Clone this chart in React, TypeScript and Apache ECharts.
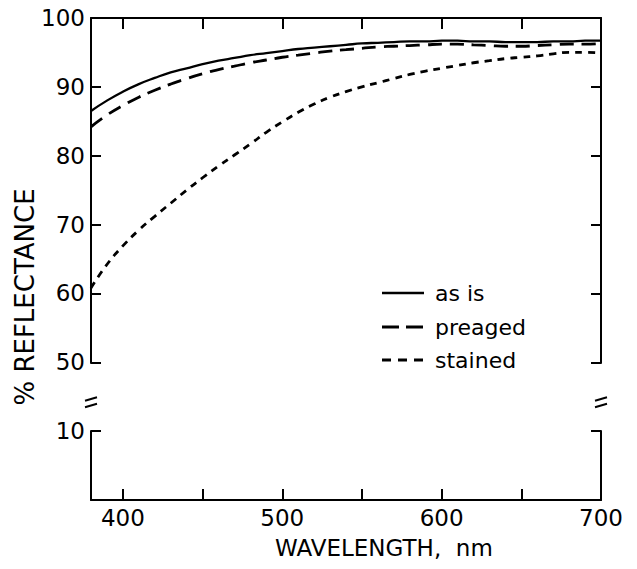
import React, { useEffect, useRef } from "react";
import * as echarts from "echarts";

const wavelengths = [380, 390, 400, 410, 420, 430, 440, 450, 460, 470, 480, 490, 500, 510, 520, 530, 540, 550, 560, 570, 580, 590, 600, 610, 620, 630, 640, 650, 660, 670, 680, 690, 700];
const asIs = [86.5, 88.0, 89.3, 90.4, 91.3, 92.1, 92.7, 93.3, 93.8, 94.2, 94.6, 94.9, 95.2, 95.5, 95.7, 95.9, 96.1, 96.3, 96.4, 96.5, 96.6, 96.6, 96.7, 96.7, 96.6, 96.6, 96.5, 96.5, 96.5, 96.6, 96.6, 96.7, 96.7];
const preaged = [84.2, 85.9, 87.3, 88.5, 89.5, 90.4, 91.2, 91.9, 92.5, 93.0, 93.5, 93.9, 94.3, 94.6, 94.9, 95.2, 95.4, 95.6, 95.8, 95.9, 96.0, 96.1, 96.2, 96.2, 96.1, 96.0, 95.9, 95.9, 96.0, 96.1, 96.2, 96.2, 96.3];
const stained = [60.8, 64.2, 66.9, 69.2, 71.2, 73.1, 75.0, 76.8, 78.5, 80.1, 81.7, 83.4, 84.9, 86.3, 87.5, 88.5, 89.3, 90.0, 90.6, 91.2, 91.8, 92.3, 92.7, 93.1, 93.5, 93.8, 94.1, 94.3, 94.5, 94.8, 95.0, 95.0, 94.9];
const seriesNames = ["as is", "preaged", "stained"];
const xLabelValues = [400, 500, 600, 700];
const yHiddenLabels = [0];
const yBreak = { start: 10, end: 50, gap: 10 };

const FONT = "DejaVu Sans";
const lineCol = "#000";
const seriesWidths = [2.3, 2.8, 2.8];
const seriesDash: any[] = ["solid", [14, 8], [7, 6]];
const legendDash: any[] = [null, [17, 7], [9, 7]];

export default function App() {
  const ref = useRef<HTMLDivElement>(null);
  useEffect(() => {
    if (!ref.current) return;
    const chart = echarts.init(ref.current, null, { renderer: "svg" });
    const axisLine = { show: true, onZero: false, lineStyle: { color: lineCol, width: 2 } };
    const axisTick = { show: true, inside: true, length: 11, lineStyle: { color: lineCol, width: 2 } };
    const xBase = {
      type: "value",
      min: 380,
      max: 700,
      axisLine,
      axisTick,
      splitLine: { show: false },
    };
    const yBase = {
      type: "value",
      min: 0,
      max: 100,
      interval: 10,
      breaks: [yBreak],
      breakArea: { show: false },
      axisLine,
      axisTick: { ...axisTick, length: 10 },
      splitLine: { show: false },
    };
    const mk = (i: number, data: number[]) => ({
      name: seriesNames[i],
      type: "line",
      data: wavelengths.map((w, k) => [w, data[k]]),
      smooth: true,
      symbol: "none",
      showSymbol: false,
      lineStyle: { color: lineCol, width: seriesWidths[i], type: seriesDash[i], cap: "butt" },
      itemStyle: { color: lineCol },
    });
    const option: any = {
      animation: false,
      backgroundColor: "#fff",
      textStyle: { fontFamily: FONT },
      grid: { left: 91, right: 36, top: 18, bottom: 69, containLabel: false },
      xAxis: [
        {
          ...xBase,
          position: "bottom",
          axisLabel: {
            show: true,
            color: lineCol,
            fontSize: 23,
            fontFamily: FONT,
            margin: 6,
            formatter: (v: number) => (xLabelValues.includes(v) ? String(v) : ""),
          },
        },
        { ...xBase, position: "top", axisLabel: { show: false } },
      ],
      yAxis: [
        {
          ...yBase,
          position: "left",
          axisLabel: {
            show: true,
            color: lineCol,
            fontSize: 23,
            fontFamily: FONT,
            margin: 6,
            formatter: (v: number) => (yHiddenLabels.includes(v) ? "" : String(v)),
          },
        },
        { ...yBase, position: "right", axisLabel: { show: false } },
      ],
      series: [mk(0, asIs), mk(1, preaged), mk(2, stained)],
    };
    chart.setOption(option);

    let y10 = chart.convertToPixel({ yAxisIndex: 0 }, 10) as number;
    let y50 = chart.convertToPixel({ yAxisIndex: 0 }, 50) as number;
    if (!isFinite(y10) || !isFinite(y50)) {
      y10 = 431;
      y50 = 362;
    }
    const c = y10 + (y50 - y10) * 0.42;
    const xl = chart.convertToPixel({ xAxisIndex: 0 }, 380) as number;
    const xr = chart.convertToPixel({ xAxisIndex: 0 }, 700) as number;
    const marks = (x: number) => [
      { type: "rect", shape: { x: x - 3, y: c - 3.2, width: 6, height: 6.4 }, style: { fill: "#fff" }, z: 100 },
      { type: "line", shape: { x1: x - 6, y1: c - 1.5, x2: x + 6, y2: c - 5 }, style: { stroke: lineCol, lineWidth: 2 }, z: 101 },
      { type: "line", shape: { x1: x - 6, y1: c + 5, x2: x + 6, y2: c + 1.5 }, style: { stroke: lineCol, lineWidth: 2 }, z: 101 },
    ];
    const legendRows = [293, 327, 360];
    const legendItems: any[] = [];
    seriesNames.forEach((name, i) => {
      const y = legendRows[i];
      legendItems.push({
        type: "line",
        shape: { x1: 382, y1: y, x2: 424, y2: y },
        style: {
          stroke: lineCol,
          lineWidth: seriesWidths[i],
          lineDash: legendDash[i] || undefined,
          lineCap: "butt",
        },
        z: 100,
      });
      legendItems.push({
        type: "text",
        x: 435,
        y,
        style: {
          text: name,
          fill: lineCol,
          font: `22px "${FONT}"`,
          textAlign: "left",
          textVerticalAlign: "middle",
        },
        z: 100,
      });
    });
    chart.setOption({
      graphic: [
        ...marks(xl),
        ...marks(xr),
        ...legendItems,
        {
          type: "text",
          left: 275,
          top: 536,
          style: { text: "WAVELENGTH,  nm", fill: lineCol, font: `23px "${FONT}"` },
          z: 100,
        },
        {
          type: "text",
          x: 25,
          y: 297,
          rotation: Math.PI / 2,
          style: {
            text: "% REFLECTANCE",
            fill: lineCol,
            font: `26px "${FONT}"`,
            textAlign: "center",
            textVerticalAlign: "middle",
          },
          z: 100,
        },
      ],
    });
    return () => chart.dispose();
  }, []);
  return <div ref={ref} style={{ position: "fixed", left: 0, top: 0, width: 637, height: 569 }} />;
}
